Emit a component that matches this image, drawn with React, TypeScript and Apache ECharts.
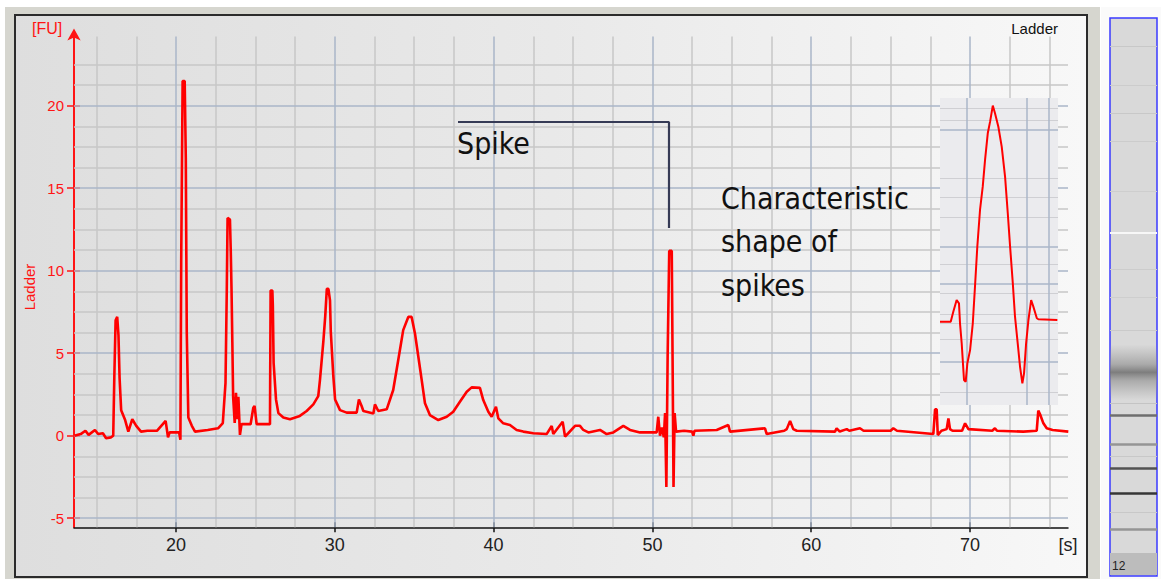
import { useEffect, useRef } from "react";
import * as echarts from "echarts";

// ---------- data ----------
const xTicks = [20, 30, 40, 50, 60, 70];
const yTicks = [-5, 0, 5, 10, 15, 20];
const hGridMajor = [-5, 0, 5, 10, 15, 20];
const hGridMinor = [-3.75, -2.5, -1.25, 1.25, 2.5, 3.75, 6.25, 7.5, 8.75, 11.25, 12.5, 13.75, 16.25, 17.5, 18.75, 21.25, 22.5];
const vGridMajor = [20, 30, 40, 50, 60, 70];
const vGridMinor = [15, 17.5, 22.5, 25, 27.5, 32.5, 35, 37.5, 42.5, 45, 47.5, 52.5, 55, 57.5, 62.5, 65, 67.5, 72.5, 75];

// electropherogram trace: [time (s), fluorescence (FU)]
const ladderTrace: [number, number][] = [
  [13.6, 0.0], [14.0, 0.1], [14.3, 0.3], [14.5, 0.05], [14.9, 0.35], [15.1, 0.1], [15.4, 0.15], [15.6, -0.15], [15.9, -0.1], [16.05, 0.0],
  [16.12, 3.6], [16.2, 7.0], [16.3, 7.2], [16.38, 6.1], [16.45, 3.5], [16.55, 1.55], [16.8, 0.95], [17.0, 0.25], [17.25, 1.0], [17.5, 0.6],
  [17.8, 0.25], [18.2, 0.3], [18.8, 0.3], [19.35, 0.9], [19.5, -0.1], [19.6, 0.2], [20.2, 0.2], [20.28, -0.25],
  [20.33, 10.5], [20.42, 21.5], [20.55, 21.5], [20.62, 16.8], [20.68, 6.3], [20.78, 1.1], [21.0, 0.6], [21.2, 0.25], [22.0, 0.35], [22.65, 0.45], [22.95, 0.77],
  [23.12, 3.2], [23.2, 8.8], [23.25, 13.2], [23.4, 13.1], [23.45, 11.25], [23.5, 8.8], [23.55, 5.7], [23.6, 2.36], [23.7, 0.77], [23.78, 2.6],
  [23.85, 1.0], [23.93, 2.36], [24.03, 0.05], [24.13, 0.7], [24.7, 0.7], [24.87, 1.7], [24.95, 1.8], [25.08, 0.7], [25.92, 0.7],
  [25.96, 8.8], [26.07, 8.8], [26.1, 7.9], [26.15, 4.4], [26.3, 2.2], [26.45, 1.37], [26.76, 1.1], [27.18, 1.0], [27.8, 1.2], [28.23, 1.5],
  [28.65, 1.9], [28.96, 2.4], [29.07, 3.4], [29.28, 5.7], [29.4, 7.25], [29.5, 8.9], [29.6, 8.9], [29.7, 8.2], [29.75, 6.3], [29.91, 3.6],
  [30.02, 2.2], [30.33, 1.55], [30.75, 1.4], [31.38, 1.4], [31.52, 2.2], [31.69, 1.8], [31.8, 1.5], [32.43, 1.35], [32.53, 1.9], [32.74, 1.5],
  [33.27, 1.6], [33.68, 2.77], [34.0, 4.6], [34.31, 6.4], [34.63, 7.2], [34.84, 7.2], [35.05, 6.2], [35.26, 4.8], [35.47, 3.4], [35.68, 1.97],
  [35.99, 1.25], [36.52, 0.95], [37.05, 1.15], [37.46, 1.45], [37.88, 2.06], [38.31, 2.67], [38.62, 2.93], [39.14, 2.9], [39.35, 2.16],
  [39.67, 1.45], [39.88, 1.15], [40.15, 1.76], [40.3, 1.05], [40.61, 0.75], [41.03, 0.65], [41.45, 0.35], [41.87, 0.25], [42.5, 0.15],
  [43.34, 0.1], [43.66, 0.59], [43.76, 0.1], [44.35, 0.85], [44.5, -0.05], [44.7, 0.15], [45.13, 0.6], [45.44, 0.6], [45.65, 0.35],
  [45.97, 0.2], [46.7, 0.35], [47.12, 0.1], [47.54, 0.2], [48.17, 0.6], [48.59, 0.35], [49.22, 0.2], [50.27, 0.2],
  [50.37, 1.15], [50.48, 0.0], [50.6, 0.5], [50.72, -0.1], [50.8, 1.37], [50.88, -3.1], [50.96, 4.8], [51.06, 11.2], [51.22, 11.2],
  [51.27, 4.8], [51.33, -3.1], [51.4, 1.37], [51.49, 0.25], [52.0, 0.3], [52.5, 0.25], [52.58, 0.0], [52.65, 0.3], [54.05, 0.35],
  [54.78, 0.65], [54.89, 0.25], [57.09, 0.45], [57.2, 0.1], [58.3, 0.3], [58.46, 0.4], [58.67, 0.9], [58.87, 0.4], [59.09, 0.3],
  [61.5, 0.25], [61.6, 0.45], [61.8, 0.25], [62.24, 0.4], [62.4, 0.3], [63.07, 0.45], [63.3, 0.3], [65.0, 0.3], [65.17, 0.45], [65.4, 0.3],
  [67.69, 0.1], [67.8, 1.6], [67.9, 1.6], [67.97, 0.04], [68.2, 0.3], [68.53, 0.4], [68.64, 1.05], [68.74, 0.4], [68.9, 0.3], [69.5, 0.3],
  [69.69, 0.75], [69.9, 0.4], [71.4, 0.3], [71.57, 0.45], [71.7, 0.3], [73.36, 0.25], [74.2, 0.3], [74.3, 1.52], [74.41, 1.3],
  [74.62, 0.75], [74.83, 0.45], [75.2, 0.35], [76.19, 0.25],
];

// magnified spike shape (inset)
const spikeShape: [number, number][] = [
  [50.686, -0.09], [50.769, -0.09], [50.789, 0.43], [50.815, 1.03], [50.833, 0.86], [50.841, -0.17], [50.854, -1.2], [50.872, -3.09],
  [50.885, -3.18], [50.898, -2.23], [50.919, -1.55], [50.94, -0.17], [50.957, 1.72], [50.975, 3.78], [50.996, 5.67], [51.017, 6.87],
  [51.035, 8.25], [51.056, 9.62], [51.074, 10.22], [51.095, 11.05], [51.112, 10.65], [51.138, 9.96], [51.164, 8.93], [51.19, 7.39],
  [51.211, 5.5], [51.229, 3.78], [51.25, 1.89], [51.267, 0.17], [51.288, -1.2], [51.306, -2.41], [51.324, -3.26], [51.337, -2.75],
  [51.353, -1.2], [51.371, 0.0], [51.392, 1.03], [51.409, 0.69], [51.436, 0.09], [51.448, 0.04], [51.595, 0.0],
];
const insetGridMajor = [9.8, 3.8, 1.85, -2.15];
const insetGridMinor = [10.9, 10.3, 7.3, 6.35, 5.3, 2.85, 1.4, 0.3, -0.15, -1.0, -3.7];
const insetVGrid = [50.893, 51.363, 51.533];

// virtual gel lane (position 0 = top, 100 = bottom; intensity 0..1)
const laneBandPos = [5, 12, 17, 22, 31, 45, 50, 56, 69, 71.25, 76.4, 78.5, 80.7, 85.2, 88.5, 91.6];
const laneBandIntensity = [0.08, 0.06, 0.08, 0.06, 0.05, 0.06, 0.05, 0.07, 0.1, 0.55, 0.35, 0.08, 0.7, 0.85, 0.08, 0.35];
const laneMarkerPos = 38.4;
const laneBroadBand = [58.5, 63.4, 68.5];

export default function App() {
  const ref = useRef<HTMLDivElement>(null);

  useEffect(() => {
    const chart = echarts.init(ref.current!, null, { renderer: "svg" });
    const minorC = "#c7c7c7";
    const majorC = "#aab6c8";
    const red = "#ff1414";
    const font = "Liberation Sans";

    const gl = (v: number, axis: "xAxis" | "yAxis", color: string) => ({
      [axis]: v,
      lineStyle: { color, width: 1.5, type: "solid" },
    });

    const option: any = {
      animation: false,
      grid: [
        { left: 74, top: 36.4, width: 994, height: 490.9, show: false },
        { left: 1110, top: 18, width: 47, height: 558, show: true, backgroundColor: "#d9d9d9", borderColor: "#3a3aff", borderWidth: 1.5 },
        { left: 940, top: 98, width: 118, height: 307, show: false },
      ],
      xAxis: [
        {
          type: "value", gridIndex: 0, min: 13.58, max: 76.17, position: "bottom",
          axisLine: { show: true, onZero: false, lineStyle: { color: "#111", width: 1.5 } },
          axisTick: { show: true, length: 5, lineStyle: { color: "#111", width: 1.5 }, customValues: xTicks },
          axisLabel: { color: "#222", fontSize: 18, fontFamily: font, margin: 9, customValues: xTicks },
          splitLine: { show: false },
        },
        {
          type: "value", gridIndex: 0, min: 13.58, max: 76.17, position: "bottom",
          axisLine: { show: false, onZero: false },
          axisTick: { show: true, inside: true, length: 5, lineStyle: { color: "#111", width: 1.5 }, customValues: xTicks },
          axisLabel: { show: false },
          splitLine: { show: false },
        },
        { type: "value", gridIndex: 1, min: 0, max: 1, show: false },
        { type: "value", gridIndex: 2, min: 50.686, max: 51.6, show: false },
      ],
      yAxis: [
        {
          type: "value", gridIndex: 0, min: -5.55, max: 24.2, position: "left",
          axisLine: { show: true, onZero: false, lineStyle: { color: red, width: 2 }, symbol: ["none", "arrow"], symbolSize: [10, 12], symbolOffset: [0, 8] },
          axisTick: { show: true, length: 7, lineStyle: { color: red, width: 1.5 }, customValues: yTicks },
          axisLabel: { color: red, fontSize: 15, fontFamily: font, margin: 10, customValues: yTicks },
          splitLine: { show: false },
        },
        {
          type: "value", gridIndex: 0, min: -5.55, max: 24.2, position: "left",
          axisLine: { show: false, onZero: false },
          axisTick: { show: true, inside: true, length: 6, lineStyle: { color: red, width: 1.5 }, customValues: yTicks },
          axisLabel: { show: false },
          splitLine: { show: false },
        },
        { type: "value", gridIndex: 1, min: 0, max: 100, inverse: true, show: false },
        { type: "value", gridIndex: 2, min: -4.38, max: 11.44, show: false },
      ],
      series: [
        {
          type: "line", xAxisIndex: 0, yAxisIndex: 0, data: [], z: 1, silent: true,
          markLine: {
            z: 1, silent: true, symbol: "none", label: { show: false }, animation: false,
            data: [
              ...hGridMinor.map((v) => gl(v, "yAxis", minorC)),
              ...vGridMinor.map((v) => gl(v, "xAxis", minorC)),
              ...hGridMajor.map((v) => gl(v, "yAxis", majorC)),
              ...vGridMajor.map((v) => gl(v, "xAxis", majorC)),
            ],
          },
        },
        {
          type: "line", name: "Ladder", xAxisIndex: 0, yAxisIndex: 0, data: ladderTrace, z: 3,
          showSymbol: false, symbol: "none", silent: true,
          lineStyle: { color: "#ff0000", width: 2.6 },
          markLine: {
            z: 4, silent: true, symbol: "none", label: { show: false }, animation: false,
            lineStyle: { color: "#363b56", width: 2.2, type: "solid" },
            data: [
              [{ coord: [37.76, 19.03] }, { coord: [51.06, 19.03] }],
              [{ coord: [51.06, 19.03] }, { coord: [51.06, 12.59] }],
            ],
          },
        },
        // gel lane
        {
          type: "line", xAxisIndex: 2, yAxisIndex: 2, data: [], z: 2, silent: true,
          markArea: {
            z: 1, silent: true,
            data: [
              [
                { coord: [0, laneBroadBand[0]], itemStyle: { opacity: 1, color: { type: "linear", x: 0, y: 0, x2: 0, y2: 1, colorStops: [
                  { offset: 0, color: "rgba(150,150,150,0)" },
                  { offset: 0.35, color: "rgba(140,140,140,0.6)" },
                  { offset: 0.5, color: "rgba(115,115,115,0.9)" },
                  { offset: 0.65, color: "rgba(140,140,140,0.6)" },
                  { offset: 1, color: "rgba(150,150,150,0)" },
                ] } } },
                { coord: [1, laneBroadBand[2]] },
              ],
              [
                { coord: [0, 95.9], itemStyle: { color: "#bcbcbc", opacity: 1 } },
                { coord: [1, 99.8] },
              ],
            ],
          },
          markLine: {
            z: 2, silent: true, symbol: "none", label: { show: false }, animation: false,
            data: [
              ...laneBandPos.map((p, i) => {
                const g = Math.round(215 - 190 * laneBandIntensity[i]);
                return { yAxis: p, lineStyle: { color: `rgb(${g},${g},${g})`, width: laneBandIntensity[i] > 0.3 ? 2.5 : 1.2, type: "solid" } };
              }),
              { yAxis: laneMarkerPos, lineStyle: { color: "#f7f7f7", width: 2, type: "solid" } },
            ],
          },
        },
        // inset background
        {
          type: "line", xAxisIndex: 3, yAxisIndex: 3, data: [], z: 10, silent: true,
          markArea: {
            z: 10, silent: true,
            itemStyle: { color: "#ebebee", opacity: 1 },
            data: [[{ coord: [50.686, -4.38] }, { coord: [51.6, 11.44] }]],
          },
        },
        // inset grid
        {
          type: "line", xAxisIndex: 3, yAxisIndex: 3, data: [], z: 11, silent: true,
          markLine: {
            z: 11, silent: true, symbol: "none", label: { show: false }, animation: false,
            data: [
              ...insetGridMinor.map((v) => ({ yAxis: v, lineStyle: { color: "#cfcfd3", width: 1.2, type: "solid" } })),
              ...insetGridMajor.map((v) => ({ yAxis: v, lineStyle: { color: "#aab6c8", width: 1.5, type: "solid" } })),
              ...insetVGrid.map((v) => ({ xAxis: v, lineStyle: { color: "#aab6c8", width: 1.5, type: "solid" } })),
            ],
          },
        },
        // inset spike shape
        {
          type: "line", xAxisIndex: 3, yAxisIndex: 3, data: spikeShape, z: 12,
          showSymbol: false, symbol: "none", silent: true,
          lineStyle: { color: "#ff0000", width: 2 },
        },
      ],
      graphic: [
        { type: "rect", z: -20, silent: true, shape: { x: 5, y: 7, width: 1095, height: 572 }, style: { fill: "#d6d6cf" } },
        {
          type: "rect", z: -19, silent: true, shape: { x: 15, y: 15, width: 1072, height: 562 },
          style: {
            fill: { type: "linear", x: 0, y: 0, x2: 1, y2: 0, colorStops: [
              { offset: 0, color: "#dedede" }, { offset: 0.5, color: "#e9e9e9" }, { offset: 1, color: "#f8f8f8" },
            ] },
            stroke: "#2b2b2b", lineWidth: 2,
          },
        },
        { type: "rect", z: -18, silent: true, shape: { x: 1101, y: 7, width: 60, height: 572 }, style: { fill: "#fafafa" } },
        { type: "text", z: 100, x: 32, y: 28, style: { text: "[FU]", fill: red, font: `16px "${font}"`, align: "left", verticalAlign: "middle" } },
        { type: "text", z: 100, x: 29, y: 287, rotation: Math.PI / 2, style: { text: "Ladder", fill: red, font: `15px "${font}"`, align: "center", verticalAlign: "middle" } },
        { type: "text", z: 100, x: 1058, y: 28, style: { text: "Ladder", fill: "#111", font: `15px "${font}"`, align: "right", verticalAlign: "middle" } },
        { type: "text", z: 100, x: 1068, y: 545, style: { text: "[s]", fill: "#222", font: `18px "${font}"`, align: "center", verticalAlign: "middle" } },
        { type: "text", z: 100, x: 457, y: 143.5, style: { text: "Spike", fill: "#111", font: `30px "DejaVu Sans Condensed", "DejaVu Sans"`, align: "left", verticalAlign: "middle" } },
        {
          type: "text", z: 100, x: 721, y: 176.5,
          style: { text: "Characteristic\nshape of\nspikes", fill: "#111", font: `30px "DejaVu Sans Condensed", "DejaVu Sans"`, lineHeight: 43.5, align: "left", verticalAlign: "top" },
        },
        { type: "text", z: 100, x: 1112, y: 566, style: { text: "12", fill: "#222", font: `12px "${font}"`, align: "left", verticalAlign: "middle" } },
      ],
    };

    chart.setOption(option);
    return () => chart.dispose();
  }, []);

  return (
    <div
      ref={ref}
      style={{ position: "fixed", left: 0, top: 0, width: 1161, height: 579, background: "#ffffff" }}
    />
  );
}
